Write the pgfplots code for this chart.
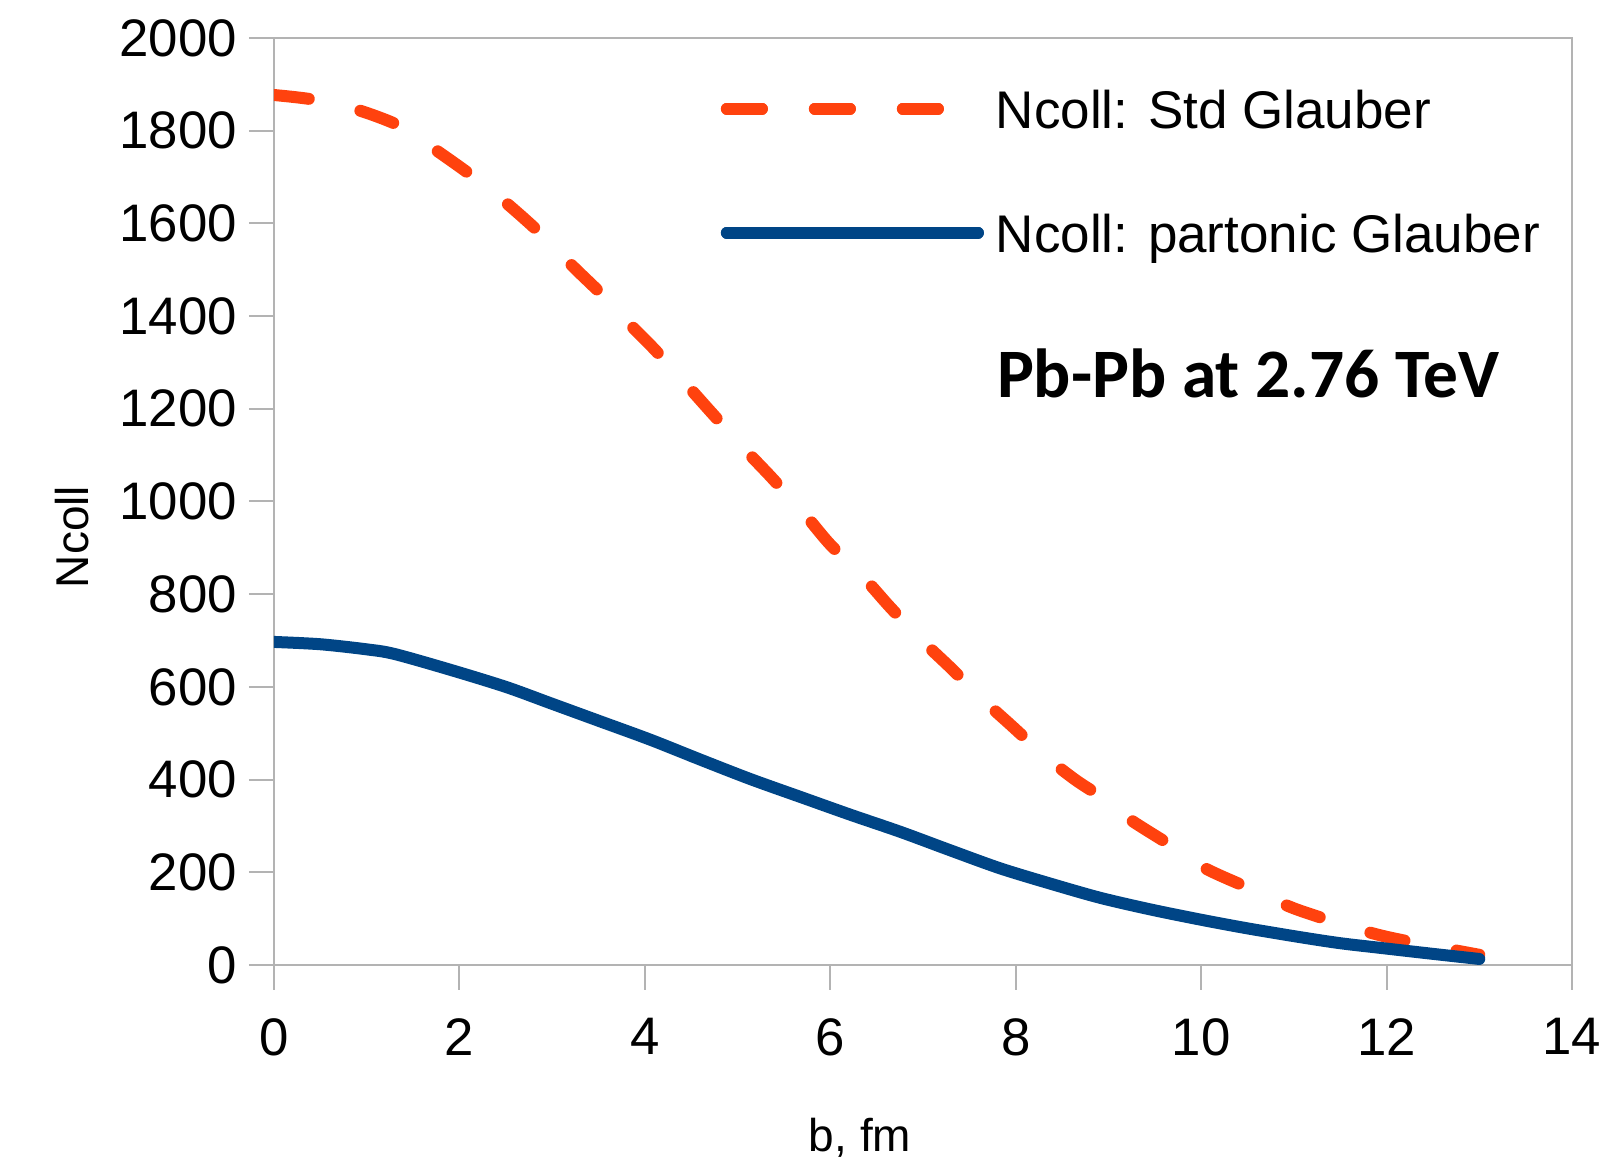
\documentclass[border=0pt]{standalone}
\usepackage{fontspec}
\setmainfont{Liberation Sans}
\newfontfamily\carlito{Carlito}
\usepackage{pgfplots}
\pgfplotsset{compat=1.18}
\definecolor{lored}{HTML}{FF420E}
\definecolor{loblue}{HTML}{004586}
\definecolor{axgray}{HTML}{B3B3B3}
\pgfplotsset{
  redlegend/.style={legend image code/.code={%
      \path (0pt,1.4pt) -- (62.75pt,1.4pt);
      \draw[##1] (0pt,1.4pt) -- (52.75pt,1.4pt);}},
  bluelegend/.style={legend image code/.code={%
      \path (0pt,1.4pt) -- (62.75pt,1.4pt);
      \draw[##1] (0pt,1.4pt) -- (62.75pt,1.4pt);}},
}
\begin{document}
\begin{tikzpicture}
\useasboundingbox (-68.5pt,-50pt) rectangle (336.25pt,241.25pt);
\begin{axis}[
  at={(0pt,0pt)}, anchor=south west,
  scale only axis, width=324.5pt, height=231.75pt,
  xmin=0, xmax=14, ymin=0, ymax=2000,
  xtick={0,2,...,14}, ytick={0,200,...,2000},
  axis line style={axgray, line width=0.5pt},
  tick style={axgray, line width=0.5pt},
  tick align=outside, major tick length=6.25pt,
  xtick pos=bottom, ytick pos=left,
  ticklabel style={font=\fontsize{13.2}{16}\selectfont, text=black},
  xticklabel style={yshift=-3.6pt},
  yticklabel style={xshift=0.5pt},
  /pgf/number format/assume math mode=true,
  /pgf/number format/1000 sep={},
  xlabel={b, fm}, ylabel={Ncoll},
  label style={font=\fontsize{11.5}{14}\selectfont},
  xlabel style={at={(axis description cs:0.4515,0)}, anchor=base, inner sep=0pt, yshift=-46.75pt},
  ylabel style={at={(axis description cs:0,0.4617)}, anchor=center, inner sep=0pt, yshift=50.5pt},
  legend cell align=left,
  legend style={draw=none, fill=none, inner sep=0pt, outer sep=0pt,
    at={(rel axis cs:0.3443,0.9458)}, anchor=north west,
    /tikz/column sep=3pt, /tikz/row sep=18pt,
    nodes={inner sep=0pt, text height=10pt, text depth=3pt},
    font=\fontsize{13.25}{16}\selectfont},
]
\addplot[redlegend, color=lored, line width=3pt, line cap=round, line join=round,
  smooth, tension=0.5, dash pattern=on 8.75pt off 13.25pt] coordinates {
(0,1877) (0.43,1867) (0.9,1845) (1.36,1810) (1.69,1766) (2.12,1705)
(2.5,1645) (2.87,1579) (3.23,1506) (3.54,1446) (3.81,1388) (4.11,1327)
(4.45,1252) (4.74,1187) (5.08,1112) (5.37,1051) (5.73,971) (6.0,907)
(6.36,836) (6.65,771) (7.0,698) (7.32,637) (7.62,577) (7.94,519)
(8.32,450) (8.64,400) (8.91,364) (9.24,313) (9.69,256) (10.05,208)
(10.55,163) (11.03,120) (11.82,70) (12.31,48) (13.0,22)
};
\addlegendentry{Ncoll: Std Glauber}
\addplot[bluelegend, color=loblue, line width=3pt, line cap=round, line join=round,
  smooth, tension=0.5] coordinates {
(0,697) (0.5,692) (1,681) (1.3,671) (1.9,637) (2.5,600) (2.98,565)
(3.5,527) (4.06,486) (4.6,443) (5.14,401) (5.7,361) (6.22,324) (6.76,287)
(7.3,247) (7.84,208) (8.4,174) (8.91,145) (9.45,120) (9.99,98) (10.5,79)
(11.07,60) (11.5,47) (11.93,37) (12.5,24) (13,13)
};
\addlegendentry{Ncoll: partonic Glauber}
\node[anchor=base west, inner sep=0pt, font=\carlito\bfseries\fontsize{17.35}{20}\selectfont]
  at (rel axis cs:0.5564,0.6117) {Pb-Pb at 2.76 TeV};
\end{axis}
\end{tikzpicture}
\end{document}
